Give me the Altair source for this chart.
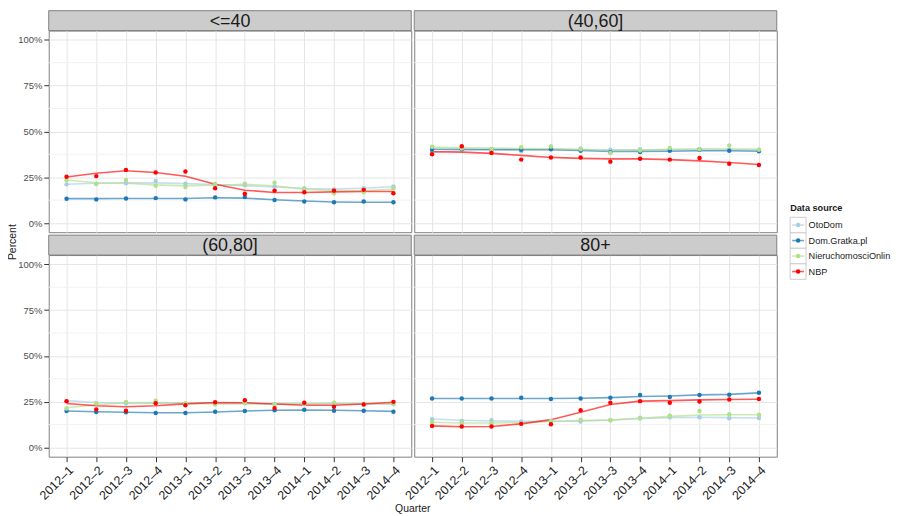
import json
import altair as alt
import pandas as pd

QUARTERS = ["2012–1", "2012–2", "2012–3", "2012–4", "2013–1", "2013–2",
            "2013–3", "2013–4", "2014–1", "2014–2", "2014–3", "2014–4"]
GROUPS = ["<=40", "(40,60]", "(60,80]", "80+"]
SERIES = ["OtoDom", "Dom.Gratka.pl", "NieruchomosciOnline", "NBP"]
COLORS = ["#a6cee3", "#1f78b4", "#b2df8a", "#ff0000"]
Y_TICKS = [0, 0.25, 0.5, 0.75, 1.0]
Y_MINOR = [0.125, 0.375, 0.625, 0.875]

# ---- <=40 ----
LE40_OTODOM = [0.211, 0.215, 0.217, 0.229, 0.215, 0.209, 0.206, 0.199, 0.190, 0.183, 0.190, 0.200]
LE40_GRATKA = [0.133, 0.129, 0.134, 0.136, 0.129, 0.140, 0.142, 0.126, 0.118, 0.113, 0.117, 0.113]
LE40_NIER = [0.233, 0.213, 0.235, 0.203, 0.197, 0.215, 0.215, 0.220, 0.184, 0.163, 0.168, 0.190]
LE40_NBP = [0.253, 0.256, 0.290, 0.276, 0.281, 0.190, 0.160, 0.177, 0.168, 0.176, 0.181, 0.163]
LE40_OTODOM_FIT = [0.212, 0.217, 0.219, 0.219, 0.215, 0.210, 0.204, 0.197, 0.188, 0.185, 0.190, 0.199]
LE40_GRATKA_FIT = [0.133, 0.133, 0.134, 0.134, 0.134, 0.138, 0.136, 0.127, 0.120, 0.115, 0.113, 0.113]
LE40_NIER_FIT = [0.235, 0.220, 0.217, 0.208, 0.203, 0.206, 0.212, 0.203, 0.185, 0.176, 0.176, 0.185]
LE40_NBP_FIT = [0.251, 0.272, 0.285, 0.276, 0.255, 0.212, 0.179, 0.167, 0.167, 0.170, 0.172, 0.172]

# ---- (40,60] ----
M4060_OTODOM = [0.385, 0.407, 0.396, 0.392, 0.418, 0.407, 0.400, 0.403, 0.400, 0.403, 0.400, 0.400]
M4060_GRATKA = [0.400, 0.403, 0.400, 0.400, 0.403, 0.394, 0.387, 0.387, 0.394, 0.400, 0.394, 0.391]
M4060_NIER = [0.416, 0.407, 0.403, 0.414, 0.418, 0.403, 0.382, 0.396, 0.410, 0.403, 0.423, 0.400]
M4060_NBP = [0.375, 0.419, 0.382, 0.346, 0.358, 0.358, 0.335, 0.351, 0.346, 0.355, 0.323, 0.317]
M4060_OTODOM_FIT = [0.387, 0.396, 0.400, 0.401, 0.403, 0.401, 0.400, 0.400, 0.400, 0.400, 0.400, 0.400]
M4060_GRATKA_FIT = [0.403, 0.403, 0.401, 0.400, 0.400, 0.396, 0.391, 0.391, 0.392, 0.394, 0.394, 0.392]
M4060_NIER_FIT = [0.414, 0.410, 0.409, 0.407, 0.405, 0.401, 0.396, 0.398, 0.403, 0.405, 0.405, 0.403]
M4060_NBP_FIT = [0.389, 0.387, 0.380, 0.369, 0.358, 0.353, 0.350, 0.350, 0.346, 0.339, 0.330, 0.319]

# ---- (60,80] ----
M6080_OTODOM = [0.253, 0.242, 0.240, 0.246, 0.238, 0.242, 0.246, 0.238, 0.242, 0.242, 0.238, 0.238]
M6080_GRATKA = [0.199, 0.194, 0.192, 0.188, 0.188, 0.195, 0.199, 0.203, 0.206, 0.201, 0.201, 0.195]
M6080_NIER = [0.213, 0.242, 0.249, 0.255, 0.242, 0.235, 0.242, 0.235, 0.238, 0.244, 0.238, 0.237]
M6080_NBP = [0.253, 0.208, 0.201, 0.242, 0.231, 0.247, 0.258, 0.215, 0.244, 0.222, 0.235, 0.249]
M6080_OTODOM_FIT = [0.256, 0.246, 0.240, 0.242, 0.242, 0.242, 0.242, 0.240, 0.240, 0.240, 0.238, 0.237]
M6080_GRATKA_FIT = [0.199, 0.195, 0.192, 0.190, 0.190, 0.194, 0.199, 0.203, 0.204, 0.203, 0.201, 0.197]
M6080_NIER_FIT = [0.217, 0.233, 0.244, 0.246, 0.242, 0.238, 0.237, 0.237, 0.238, 0.240, 0.240, 0.238]
M6080_NBP_FIT = [0.240, 0.228, 0.222, 0.228, 0.238, 0.246, 0.244, 0.237, 0.231, 0.231, 0.237, 0.247]

# ---- 80+ ----
P80_OTODOM = [0.154, 0.145, 0.149, 0.142, 0.142, 0.142, 0.149, 0.163, 0.165, 0.165, 0.160, 0.161]
P80_GRATKA = [0.267, 0.267, 0.267, 0.271, 0.265, 0.267, 0.271, 0.287, 0.276, 0.287, 0.288, 0.299]
P80_NIER = [0.138, 0.135, 0.133, 0.129, 0.145, 0.152, 0.149, 0.158, 0.174, 0.199, 0.181, 0.179]
P80_NBP = [0.118, 0.115, 0.115, 0.129, 0.127, 0.203, 0.244, 0.253, 0.244, 0.251, 0.262, 0.265]
P80_OTODOM_FIT = [0.156, 0.149, 0.145, 0.143, 0.143, 0.145, 0.149, 0.158, 0.163, 0.165, 0.163, 0.161]
P80_GRATKA_FIT = [0.267, 0.267, 0.267, 0.267, 0.267, 0.269, 0.272, 0.278, 0.281, 0.287, 0.290, 0.298]
P80_NIER_FIT = [0.138, 0.134, 0.134, 0.136, 0.142, 0.147, 0.151, 0.160, 0.170, 0.177, 0.179, 0.179]
P80_NBP_FIT = [0.118, 0.113, 0.115, 0.129, 0.152, 0.192, 0.235, 0.253, 0.256, 0.260, 0.262, 0.263]

POINTS = {
    ("<=40", "OtoDom"): (LE40_OTODOM, LE40_OTODOM_FIT),
    ("<=40", "Dom.Gratka.pl"): (LE40_GRATKA, LE40_GRATKA_FIT),
    ("<=40", "NieruchomosciOnline"): (LE40_NIER, LE40_NIER_FIT),
    ("<=40", "NBP"): (LE40_NBP, LE40_NBP_FIT),
    ("(40,60]", "OtoDom"): (M4060_OTODOM, M4060_OTODOM_FIT),
    ("(40,60]", "Dom.Gratka.pl"): (M4060_GRATKA, M4060_GRATKA_FIT),
    ("(40,60]", "NieruchomosciOnline"): (M4060_NIER, M4060_NIER_FIT),
    ("(40,60]", "NBP"): (M4060_NBP, M4060_NBP_FIT),
    ("(60,80]", "OtoDom"): (M6080_OTODOM, M6080_OTODOM_FIT),
    ("(60,80]", "Dom.Gratka.pl"): (M6080_GRATKA, M6080_GRATKA_FIT),
    ("(60,80]", "NieruchomosciOnline"): (M6080_NIER, M6080_NIER_FIT),
    ("(60,80]", "NBP"): (M6080_NBP, M6080_NBP_FIT),
    ("80+", "OtoDom"): (P80_OTODOM, P80_OTODOM_FIT),
    ("80+", "Dom.Gratka.pl"): (P80_GRATKA, P80_GRATKA_FIT),
    ("80+", "NieruchomosciOnline"): (P80_NIER, P80_NIER_FIT),
    ("80+", "NBP"): (P80_NBP, P80_NBP_FIT),
}

rows = []
for g in GROUPS:
    for s in SERIES:
        vals, fits = POINTS[(g, s)]
        for i, q in enumerate(QUARTERS):
            rows.append({"group": g, "series": s, "idx": i, "quarter": q,
                         "value": vals[i], "fit": fits[i]})
DF = pd.DataFrame(rows)
MINOR_DF = pd.DataFrame({"m": Y_MINOR})
STRIP_DF = pd.DataFrame({"group": GROUPS})
LEG_DF = pd.DataFrame({"series": SERIES, "rank": list(range(len(SERIES)))})

W, H, SH, GAP = 365, 203, 20, 3
FONT = "Liberation Sans"
xscale = alt.Scale(domain=[-0.6, 11.6], nice=False, zero=False)
yscale = alt.Scale(domain=[-0.05, 1.05], nice=False, zero=False)
label_expr = json.dumps(QUARTERS, ensure_ascii=False) + "[datum.value]"
color = alt.Color("series:N", scale=alt.Scale(domain=SERIES, range=COLORS), legend=None)

# legend placement (pixels relative to the (40,60] panel)
LEG_X = W + 13.5
LEG_TOP = 188.0
LEG_ROW = 15.6


def text_layer(label, **kw):
    return alt.Chart(pd.DataFrame({"t": [label]})).mark_text(
        font=FONT, color="#1a1a1a", **kw)


def legend_layers():
    lb = alt.Chart(LEG_DF).transform_calculate(
        top=f"{LEG_TOP} + {LEG_ROW} * datum.rank",
        bot=f"{LEG_TOP} + {LEG_ROW} * (datum.rank + 1)",
        mid=f"{LEG_TOP} + {LEG_ROW} * (datum.rank + 0.5)")
    ymid = alt.Y("mid:Q", scale=None, axis=None)
    box = lb.mark_rect(fill="white", stroke="#cccccc", strokeWidth=1).encode(
        y=alt.Y("top:Q", scale=None, axis=None), y2="bot:Q",
        x=alt.value(LEG_X), x2=alt.value(LEG_X + 16))
    line = lb.mark_rule(strokeWidth=1.6, opacity=0.65).encode(
        y=ymid, x=alt.value(LEG_X + 2), x2=alt.value(LEG_X + 14), color=color)
    pt = lb.mark_circle(size=20, opacity=1).encode(
        y=ymid, x=alt.value(LEG_X + 8), color=color)
    tx = lb.mark_text(align="left", baseline="middle", fontSize=9.2, color="#1a1a1a",
                      font=FONT, limit=85, ellipsis="\u200b").encode(
        y=ymid, x=alt.value(LEG_X + 18.5), text="series:N")
    title = text_layer("Data source", align="left", baseline="middle", fontSize=9.2,
                       fontWeight="bold").encode(
        text="t:N", x=alt.value(LEG_X), y=alt.value(LEG_TOP - 9.5))
    return [box, line, pt, tx, title]


def panel(g, left, bottom, extra=()):
    xaxis = alt.Axis(values=list(range(12)), labelExpr=label_expr, grid=True,
                     gridColor="#e5e5e5", domain=False, title=None,
                     labels=bottom, ticks=bottom, labelAngle=315,
                     labelAlign="right", labelBaseline="top", labelFontSize=12.5,
                     labelColor="#1a1a1a", tickColor="#333333", tickSize=5,
                     labelPadding=2, labelFont=FONT, labelOverlap=False)
    yaxis = alt.Axis(values=Y_TICKS, format=".0%", grid=True, gridColor="#e5e5e5",
                     domain=False, title=None, labels=left, ticks=left,
                     labelFontSize=9.5, labelColor="#4d4d4d", tickColor="#333333",
                     tickSize=5, labelPadding=2, labelFont=FONT, labelOverlap=False)
    base = alt.Chart(DF).transform_filter(alt.datum.group == g)
    minor = alt.Chart(MINOR_DF).mark_rule(color="#f2f2f2", strokeWidth=1).encode(
        y=alt.Y("m:Q", scale=yscale, axis=yaxis))
    lines = base.mark_line(strokeWidth=1.6, opacity=0.65).encode(
        x=alt.X("idx:Q", scale=xscale, axis=xaxis),
        y=alt.Y("fit:Q", scale=yscale, axis=yaxis),
        color=color)
    pts = base.mark_circle(size=20, opacity=1).encode(
        x=alt.X("idx:Q", scale=xscale, axis=xaxis),
        y=alt.Y("value:Q", scale=yscale, axis=yaxis),
        color=color)
    sbase = alt.Chart(STRIP_DF).transform_filter(alt.datum.group == g)
    strip_bg = sbase.mark_rect(fill="#cccccc", stroke="#7f7f7f", strokeWidth=1).encode(
        x=alt.value(0), x2=alt.value(W), y=alt.value(-SH), y2=alt.value(0))
    strip_tx = sbase.mark_text(fontSize=18, color="#1a1a1a", font=FONT,
                               align="center", baseline="middle").encode(
        text="group:N", x=alt.value(W / 2), y=alt.value(-SH / 2 + 1))
    return alt.layer(minor, lines, pts, strip_bg, strip_tx, *extra).properties(
        width=W, height=H, view=alt.ViewBackground(stroke="#7f7f7f", strokeWidth=1))


percent = text_layer("Percent", angle=270, fontSize=10.5, align="center",
                     baseline="middle").encode(
    text="t:N", x=alt.value(-35.5), y=alt.value(213))
quarter = text_layer("Quarter", fontSize=10.5, align="center",
                     baseline="middle").encode(
    text="t:N", x=alt.value(366.5), y=alt.value(256))

chart = alt.concat(
    panel(GROUPS[0], True, False, [percent]),
    panel(GROUPS[1], False, False, legend_layers()),
    panel(GROUPS[2], True, True, [quarter]),
    panel(GROUPS[3], False, True),
    columns=2, spacing={"row": GAP + SH, "column": GAP}, bounds="flush"
).properties(
    padding={"left": 0, "top": 0, "right": 0, "bottom": 0},
    autosize=alt.AutoSizeParams(type="pad"),
).configure(font=FONT).configure_view(stroke="transparent")

chart.save("out.html", embed_options={"renderer": "svg", "actions": False})
